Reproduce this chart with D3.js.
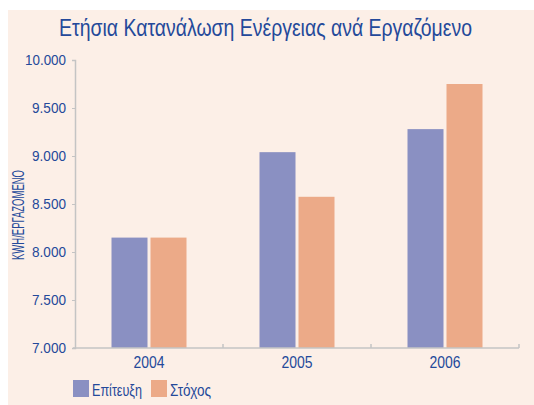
<!DOCTYPE html>
<html>
<head>
<meta charset="utf-8">
<script src="https://cdn.jsdelivr.net/npm/d3@7"></script>
<style>
  body { margin: 0; background: #fff; }
  text { font-family: "Liberation Sans", Arial, sans-serif; }
</style>
</head>
<body>
<div id="chart"></div>
<script>
/* DATA */
const years = ["2004", "2005", "2006"];
const achieved = [8150, 9040, 9280];   // Επίτευξη
const target = [8150, 8575, 9750];     // Στόχος
const seriesNames = ["Επίτευξη", "Στόχος"];
const yTicks = [7000, 7500, 8000, 8500, 9000, 9500, 10000];

const width = 534, height = 405;
const margin = { top: 60, right: 15, bottom: 57, left: 75 };
const textColor = "#24499a";
const colors = ["#8a90c2", "#ecaa88"];

const svg = d3.select("#chart").append("svg")
  .attr("width", width)
  .attr("height", height);

// peach panel
svg.append("rect")
  .attr("x", 8).attr("y", 10)
  .attr("width", width - 8).attr("height", height - 10)
  .attr("fill", "#fcefe7");

// title (condensed look via textLength)
svg.append("text")
  .attr("x", 59).attr("y", 36)
  .attr("fill", textColor)
  .style("font-size", "24px")
  .attr("textLength", 413)
  .attr("lengthAdjust", "spacingAndGlyphs")
  .text("Ετήσια Κατανάλωση Ενέργειας ανά Εργαζόμενο");

// scales
const xScale = d3.scaleBand()
  .domain(years)
  .range([margin.left, width - margin.right]);

const yScale = d3.scaleLinear()
  .domain([7000, 10000])
  .range([height - margin.bottom, margin.top]);

const barW = 36, gap = 3;

// bars
const data = years.map((y, i) => ({ year: y, values: [achieved[i], target[i]] }));

const groups = svg.selectAll("g.year")
  .data(data)
  .join("g")
  .attr("class", "year");

groups.selectAll("rect")
  .data(d => d.values.map((v, j) => ({ year: d.year, v: v, j: j })))
  .join("rect")
  .attr("x", d => xScale(d.year) + xScale.bandwidth() / 2 + (d.j === 0 ? -barW - gap / 2 : gap / 2))
  .attr("y", d => yScale(d.v))
  .attr("width", barW)
  .attr("height", d => yScale(7000) - yScale(d.v))
  .attr("fill", d => colors[d.j]);

// y axis
const yAxis = d3.axisLeft(yScale)
  .tickValues(yTicks)
  .tickSize(3)
  .tickPadding(6)
  .tickFormat(d => d3.format(",.0f")(d).replace(",", "."));

const yG = svg.append("g")
  .attr("transform", `translate(${margin.left},0)`)
  .call(yAxis);
yG.select(".domain").attr("stroke", "#c4c4c4").attr("stroke-width", 1.5);
yG.selectAll(".tick line").attr("stroke", "#c4c4c4");
yG.selectAll(".tick text")
  .attr("fill", textColor)
  .style("font-size", "14px")
  .attr("textLength", d => d >= 10000 ? 41 : 34)
  .attr("lengthAdjust", "spacingAndGlyphs");

// x axis
const xAxis = d3.axisBottom(xScale).tickSize(0).tickPadding(9);
const xG = svg.append("g")
  .attr("transform", `translate(0,${height - margin.bottom})`)
  .call(xAxis);
xG.select(".domain").remove();
xG.append("line")
  .attr("x1", margin.left - 2).attr("x2", width - margin.right)
  .attr("stroke", "#c4c4c4").attr("stroke-width", 1.5);
xG.selectAll(".sep")
  .data(years)
  .join("line")
  .attr("class", "sep")
  .attr("x1", d => xScale(d) + xScale.bandwidth())
  .attr("x2", d => xScale(d) + xScale.bandwidth())
  .attr("y1", 0).attr("y2", -4)
  .attr("stroke", "#c4c4c4").attr("stroke-width", 1.5);
xG.selectAll(".tick text")
  .attr("fill", textColor)
  .style("font-size", "16px")
  .attr("textLength", 31)
  .attr("lengthAdjust", "spacingAndGlyphs");

// y axis title
svg.append("text")
  .attr("transform", `translate(24,215) rotate(-90)`)
  .attr("text-anchor", "middle")
  .attr("fill", textColor)
  .style("font-size", "16px")
  .attr("textLength", 90)
  .attr("lengthAdjust", "spacingAndGlyphs")
  .text("KWH/ΕΡΓΑΖΟΜΕΝΟ");

// legend
const legend = svg.selectAll("g.legend")
  .data(seriesNames)
  .join("g")
  .attr("class", "legend")
  .attr("transform", (d, i) => `translate(${i === 0 ? 73 : 151},380)`);

legend.append("rect")
  .attr("width", 16).attr("height", 17)
  .attr("fill", (d, i) => colors[i]);

legend.append("text")
  .attr("x", 19).attr("y", 16)
  .attr("fill", textColor)
  .style("font-size", "16px")
  .attr("textLength", (d, i) => i === 0 ? 50 : 41)
  .attr("lengthAdjust", "spacingAndGlyphs")
  .text(d => d);
</script>
</body>
</html>
